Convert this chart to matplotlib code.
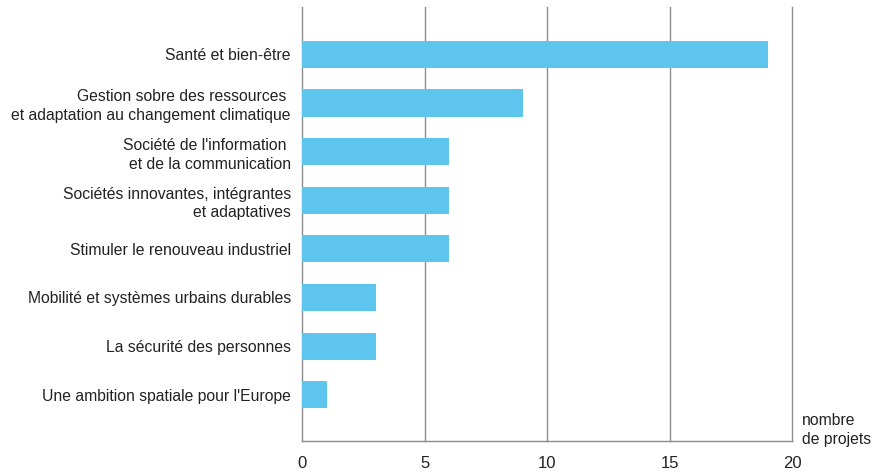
import numpy as np
import matplotlib.pyplot as plt

plt.rcParams['font.family'] = ['Liberation Sans', 'DejaVu Sans']

themes = ["Santé et bien-être",
          "Gestion sobre des ressources \net adaptation au changement climatique",
          "Société de l'information \net de la communication",
          "Sociétés innovantes, intégrantes\net adaptatives",
          "Stimuler le renouveau industriel",
          "Mobilité et systèmes urbains durables",
          "La sécurité des personnes",
          "Une ambition spatiale pour l'Europe"]
nb_projets = [19, 9, 6, 6, 6, 3, 3, 1]
xticks = [0, 5, 10, 15, 20]

fig = plt.figure(figsize=(8.77, 4.72), dpi=100)
ax = fig.add_axes([0.3444, 0.0657, 0.5587, 0.9193])

pos = np.arange(len(themes))
ax.barh(pos, nb_projets, height=0.56, color='#5EC5EE', zorder=3)
ax.set_ylim(7.95, -0.97)
ax.set_xlim(0, 20)
ax.set_xticks(xticks)
ax.set_yticks(pos)
ax.set_yticklabels(themes, fontsize=11.3, color='#222222', linespacing=1.3)
ax.tick_params(axis='both', length=0, colors='#222222')
ax.tick_params(axis='x', labelsize=12, pad=11)
ax.tick_params(axis='y', pad=8)
for x in xticks[1:]:
    ax.axvline(x, color='#8c8c8c', linewidth=1.0, zorder=0, clip_on=False)
for s in ['top', 'right']:
    ax.spines[s].set_visible(False)
for s in ['left', 'bottom']:
    ax.spines[s].set_color('#8c8c8c')
    ax.spines[s].set_linewidth(1.0)

fig.text(802 / 877, 1 - 447 / 472, "nombre\nde projets", fontsize=11.3,
         color='#222222', ha='left', va='bottom', linespacing=1.35)

fig.savefig('out.png', dpi=100)
